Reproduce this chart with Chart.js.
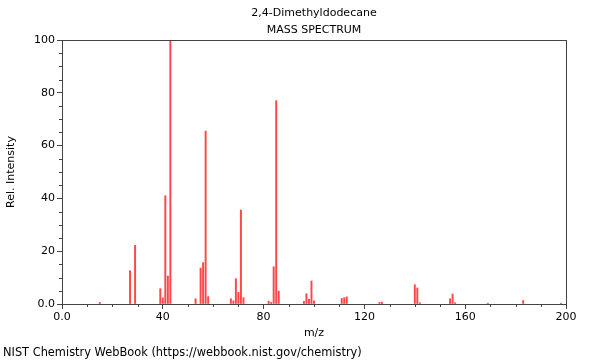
<!DOCTYPE html>
<html>
<head>
<meta charset="utf-8">
<title>2,4-Dimethyldodecane - Mass Spectrum</title>
<script src="https://cdn.jsdelivr.net/npm/chart.js@4.4.1/dist/chart.umd.min.js"></script>
<style>
    html, body { margin: 0; padding: 0; background: #fff; }
    #wrap { width: 600px; height: 360px; position: relative; }
</style>
</head>
<body>
<div id="wrap"><canvas id="spectrum"></canvas></div>
<script>
// Peak positions (m/z) and relative intensities
const mzValues = [15, 27, 29, 39, 40, 41, 42, 43, 53, 55, 56, 57, 58,
    67, 68, 69, 70, 71, 72, 82, 83, 84, 85, 86, 96, 97, 98, 99, 100,
    111, 112, 113, 126, 127, 140, 141, 142, 154, 155, 156, 169, 183, 198];
const intensities = [0.6, 12.6, 22.2, 5.8, 2.3, 41, 10.6, 100, 2.0, 13.6, 15.7, 65.5, 2.8,
    2.0, 1.2, 9.6, 4.4, 35.6, 2.4, 1.1, 0.6, 14.1, 77, 4.9, 1.0, 3.9, 1.8, 8.7, 1.2,
    2.1, 2.4, 2.7, 0.6, 0.7, 7.3, 6.1, 0.5, 2.0, 3.8, 0.5, 0.3, 1.3, 0.3];

// Axis ticks
const xMajorTicks = [0, 40, 80, 120, 160, 200];
const xMinorTicks = [10, 20, 30, 50, 60, 70, 90, 100, 110, 130, 140, 150, 170, 180, 190];
const yMajorTicks = [0, 20, 40, 60, 80, 100];
const yMinorTicks = [5, 10, 15, 25, 30, 35, 45, 50, 55, 65, 70, 75, 85, 90, 95];

const compoundName = '2,4-Dimethyldodecane';
const subTitle = 'MASS SPECTRUM';
const xTitle = 'm/z';
const yTitle = 'Rel. Intensity';
const footerText = 'NIST Chemistry WebBook (https://webbook.nist.gov/chemistry)';

const FONT = 'DejaVu Sans';

// Frame, minor ticks and the text around the plot
const framePlugin = {
    id: 'frame',
    afterDraw(chart) {
        const ctx = chart.ctx;
        const area = chart.chartArea;
        const xs = chart.scales.x;
        const ys = chart.scales.y;
        ctx.save();
        ctx.strokeStyle = '#444';
        ctx.lineWidth = 1;
        ctx.strokeRect(Math.round(area.left) + 0.5, Math.round(area.top) + 0.5,
            Math.round(area.right - area.left), Math.round(area.bottom - area.top));

        ctx.beginPath();
        xMinorTicks.forEach(v => {
            const px = Math.round(xs.getPixelForValue(v)) + 0.5;
            ctx.moveTo(px, area.bottom);
            ctx.lineTo(px, area.bottom + 3);
        });
        yMinorTicks.forEach(v => {
            const py = Math.round(ys.getPixelForValue(v)) + 0.5;
            ctx.moveTo(area.left, py);
            ctx.lineTo(area.left - 3, py);
        });
        ctx.stroke();

        ctx.fillStyle = '#000';
        ctx.font = '11px "' + FONT + '"';
        ctx.textAlign = 'center';
        ctx.textBaseline = 'middle';
        const cx = (area.left + area.right) / 2;
        const cy = (area.top + area.bottom) / 2;
        ctx.fillText(compoundName, cx, 13);
        ctx.fillText(subTitle, cx, 30);
        ctx.fillText(xTitle, cx, 333);
        ctx.save();
        ctx.translate(11, cy);
        ctx.rotate(-Math.PI / 2);
        ctx.fillText(yTitle, 0, 0);
        ctx.restore();
        ctx.font = '11.4px "' + FONT + '"';
        ctx.textAlign = 'left';
        ctx.fillText(footerText, 3, 353);
        ctx.restore();
    }
};

const ctx = document.getElementById('spectrum').getContext('2d');

const chart = new Chart(ctx, {
    type: 'bar',
    data: {
        datasets: [{
            data: mzValues.map((m, i) => ({ x: m, y: intensities[i] })),
            backgroundColor: 'rgba(255, 0, 0, 0.72)',
            borderWidth: 0,
            barThickness: 1.3
        }]
    },
    options: {
        responsive: true,
        maintainAspectRatio: false,
        animation: false,
        layout: {
            padding: { top: 40, right: 34, left: 0, bottom: 0 }
        },
        plugins: {
            legend: { display: false },
            tooltip: { enabled: false }
        },
        scales: {
            x: {
                type: 'linear',
                min: 0,
                max: 200,
                offset: false,
                afterBuildTicks: (scale) => {
                    scale.ticks = xMajorTicks.map(v => ({ value: v }));
                },
                afterFit: (scale) => { scale.height = 56; },
                ticks: {
                    color: '#000',
                    font: { family: FONT, size: 11 },
                    padding: 2,
                    maxRotation: 0,
                    callback: (v) => v === 0 ? '0.0' : String(v)
                },
                grid: {
                    offset: false,
                    drawOnChartArea: false,
                    drawTicks: true,
                    tickLength: 5,
                    color: '#444'
                },
                border: { display: false }
            },
            y: {
                min: 0,
                max: 100,
                afterBuildTicks: (scale) => {
                    scale.ticks = yMajorTicks.map(v => ({ value: v }));
                },
                afterFit: (scale) => { scale.width = 62; },
                ticks: {
                    color: '#000',
                    font: { family: FONT, size: 11 },
                    padding: 2,
                    callback: (v) => v === 0 ? '0.0' : String(v)
                },
                grid: {
                    drawOnChartArea: false,
                    drawTicks: true,
                    tickLength: 5,
                    color: '#444'
                },
                border: { display: false }
            }
        }
    },
    plugins: [framePlugin]
});
</script>
</body>
</html>
